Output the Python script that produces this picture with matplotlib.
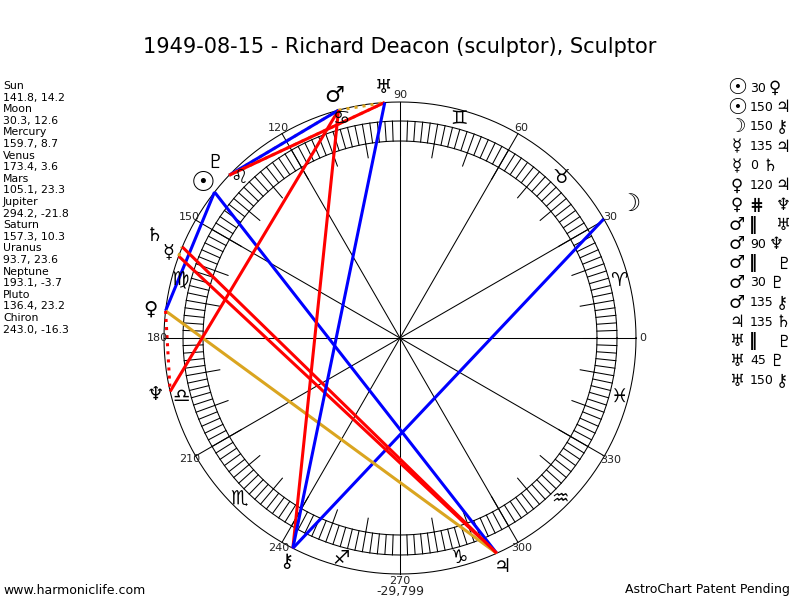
import numpy as np
import matplotlib
matplotlib.use('Agg')
import matplotlib.pyplot as plt

# ----------------------------
# chart data
names   = ['Sun', 'Moon', 'Mercury', 'Venus', 'Mars', 'Jupiter', 'Saturn', 'Uranus', 'Neptune', 'Pluto', 'Chiron']
glyphs  = ['\u2609', '\u263D', '\u263F', '\u2640', '\u2642', '\u2643', '\u2644', '\u2645', '\u2646', '\u2647', '\u26B7']
lon     = [141.8, 30.3, 159.7, 173.4, 105.1, 294.2, 157.3, 93.7, 193.1, 136.4, 243.0]
decl    = [14.2, 12.6, 8.7, 3.6, 23.3, -21.8, 10.3, 23.6, -3.7, 23.2, -16.3]

asp_p1  = ['Sun', 'Sun', 'Moon', 'Mercury', 'Mercury', 'Venus', 'Venus', 'Mars', 'Mars', 'Mars', 'Mars', 'Mars', 'Jupiter', 'Uranus', 'Uranus', 'Uranus']
asp_p2  = ['Venus', 'Jupiter', 'Chiron', 'Jupiter', 'Saturn', 'Jupiter', 'Neptune', 'Uranus', 'Neptune', 'Pluto', 'Pluto', 'Chiron', 'Saturn', 'Pluto', 'Pluto', 'Chiron']
asp_typ = ['30', '150', '150', '135', '0', '120', 'contra', 'par', '90', 'par', '30', '135', '135', 'par', '45', '150']

signs   = ['\u2648', '\u2649', '\u264A', '\u264B', '\u264C', '\u264D', '\u264E', '\u264F', '\u2650', '\u2651', '\u2652', '\u2653']

title   = '1949-08-15 - Richard Deacon (sculptor), Sculptor'
number  = '-29,799'
# ----------------------------
R_OUT   = 236
R_RING1 = 217
R_RING0 = 197
R_TICK  = 183
R_SIGN  = 227
R_PLAN  = 251
R_DEG   = 243

GOLD = '#DAA520'
d_style = {
        '0'      : dict(color=GOLD,   ls=':'),
        'par'    : dict(color=GOLD,   ls=':'),
        '30'     : dict(color='blue', ls='-'),
        '150'    : dict(color='blue', ls='-'),
        '45'     : dict(color='red',  ls='-'),
        '90'     : dict(color='red',  ls='-'),
        '135'    : dict(color='red',  ls='-'),
        '120'    : dict(color=GOLD,   ls='-'),
        'contra' : dict(color='red',  ls=':'),
        }
d_label = {'par' : '\u2016', 'contra' : '\u22D5'}
d_rad   = {'Saturn' : 266, 'Mercury' : 247, 'Pluto' : 255, 'Moon' : 266}
d_size  = {'Sun' : 20, 'Mars' : 16, 'Moon' : 17}
d_lsize = {'Sun' : 16, 'Mars' : 13, 'Moon' : 14}
# ----------------------------
def _xy(angle, rad):
    ang = np.radians(angle)
    return rad * np.cos(ang), rad * np.sin(ang)
# ----------------------------
fig = plt.figure(figsize=(8, 6), dpi=100)
ax  = fig.add_axes([0, 0, 1, 1])
ax.set_xlim(-400, 400)
ax.set_ylim(-262, 338)
ax.set_aspect('equal')
ax.axis('off')

thin = dict(color='black', lw=0.75)

# circles
tt = np.linspace(0, 360, 721)
for rad in [R_OUT, R_RING1, R_RING0]:
    ax.plot(*_xy(tt, rad), **thin)

# ring ticks
for deg in np.arange(0, 360, 2):
    x0, y0 = _xy(deg, R_RING0)
    x1, y1 = _xy(deg, R_RING1)
    ax.plot([x0, x1], [y0, y1], **thin)
for deg in np.arange(0, 360, 10):
    x0, y0 = _xy(deg, R_TICK)
    x1, y1 = _xy(deg, R_RING0)
    ax.plot([x0, x1], [y0, y1], **thin)

# 30 degree spokes with labels
for deg in np.arange(0, 360, 30):
    x1, y1 = _xy(deg, R_OUT)
    ax.plot([0, x1], [0, y1], **thin)
    xl, yl = _xy(deg, R_DEG)
    ax.text(xl, yl, f'{deg}', fontsize=8, color='#222222', ha='center', va='center')

ax.text(0, -254, number, fontsize=9, color='#222222', ha='center', va='center')

# zodiac signs
for i, sgn in enumerate(signs):
    xs, ys = _xy(15 + 30 * i, R_SIGN)
    ax.text(xs, ys, sgn, fontsize=14, ha='center', va='center')

# aspect lines
d_lon = dict(zip(names, lon))
for p1, p2, typ in zip(asp_p1, asp_p2, asp_typ):
    x0, y0 = _xy(d_lon[p1], R_OUT)
    x1, y1 = _xy(d_lon[p2], R_OUT)
    ax.plot([x0, x1], [y0, y1], lw=2.2, solid_capstyle='butt', **d_style[typ])

# planet glyphs
for name, gly, ang in zip(names, glyphs, lon):
    rad    = d_rad.get(name, R_PLAN)
    xp, yp = _xy(ang, rad)
    ax.text(xp, yp, gly, fontsize=d_size.get(name, 14), ha='center', va='center')

# title and footers
fig.text(0.5, 1 - 47 / 600, title, fontsize=15, ha='center', va='center')
fig.text(3 / 800, 1 - 590 / 600, 'www.harmoniclife.com', fontsize=9, ha='left', va='center')
fig.text(790 / 800, 1 - 590 / 600, 'AstroChart Patent Pending', fontsize=9, ha='right', va='center')

# left column with positions
y_txt = 86
for name, lo, de in zip(names, lon, decl):
    fig.text(3 / 800, 1 - y_txt / 600, name, fontsize=7.8, ha='left', va='center')
    fig.text(3 / 800, 1 - (y_txt + 11.6) / 600, f'{lo:.1f}, {de:.1f}', fontsize=7.8, ha='left', va='center')
    y_txt += 23.2

# right column with aspects
d_gly = dict(zip(names, glyphs))
y_asp = 88
for p1, p2, typ in zip(asp_p1, asp_p2, asp_typ):
    yy  = 1 - y_asp / 600
    lab = d_label.get(typ, typ)
    fig.text(737 / 800, yy, d_gly[p1], fontsize=d_lsize.get(p1, 12), ha='center', va='center')
    if typ in d_label:
        fig.text(749 / 800, yy, lab, fontsize=12, fontweight='bold', ha='left', va='center')
        x2 = 776
    else:
        fig.text(750 / 800, yy, lab, fontsize=9, ha='left', va='center')
        x2 = 750 + 6.5 * len(lab) + 6
    fig.text(x2 / 800, yy, d_gly[p2], fontsize=12, ha='left', va='center')
    y_asp += 19.5

fig.savefig('out.png', dpi=100)
